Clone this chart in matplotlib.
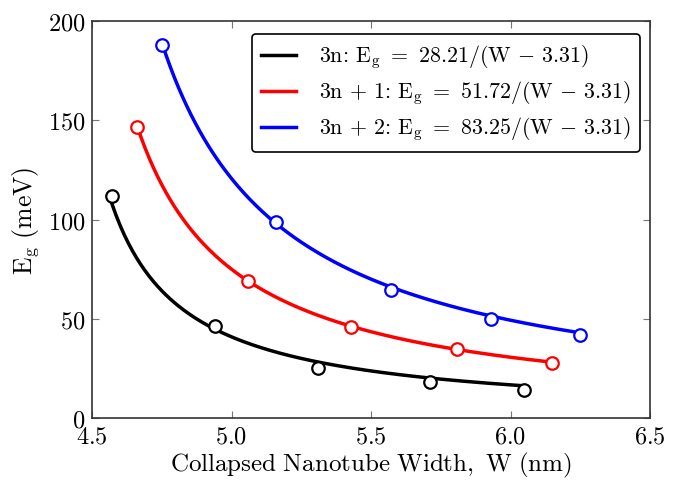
import numpy as np
import matplotlib
matplotlib.use("Agg")
import matplotlib.pyplot as plt

plt.rcParams['mathtext.fontset'] = 'cm'
plt.rcParams['font.family'] = 'serif'
plt.rcParams['font.serif'] = ['cmr10', 'DejaVu Serif']
plt.rcParams['axes.formatter.use_mathtext'] = True

# Data
w_3n = [4.57, 4.94, 5.31, 5.71, 6.05]
eg_3n = [112.0, 46.5, 25.2, 18.0, 14.1]
w_3n1 = [4.66, 5.06, 5.43, 5.81, 6.15]
eg_3n1 = [146.8, 69.0, 45.7, 34.8, 27.7]
w_3n2 = [4.75, 5.16, 5.57, 5.93, 6.25]
eg_3n2 = [187.9, 98.7, 64.6, 49.9, 41.8]

# Fit coefficients (legend) and curve offset as drawn
coef = [28.21, 51.72, 83.25]
w_offset = 4.31
labels = [r'$3\mathrm{n}$: $\mathrm{E_g}\ =\ 28.21/(\mathrm{W}\,-\,3.31)$',
          r'$3\mathrm{n}\,+\,1$: $\mathrm{E_g}\ =\ 51.72/(\mathrm{W}\,-\,3.31)$',
          r'$3\mathrm{n}\,+\,2$: $\mathrm{E_g}\ =\ 83.25/(\mathrm{W}\,-\,3.31)$']
colors = ['black', 'red', 'blue']

xticks = [4.5, 5.0, 5.5, 6.0, 6.5]
yticks = [0, 50, 100, 150, 200]

fig = plt.figure(figsize=(6.84, 4.81), dpi=100)
ax = fig.add_axes([92/684, 1-419/481, (650-92)/684, (419-22)/481])

series = [(w_3n, eg_3n), (w_3n1, eg_3n1), (w_3n2, eg_3n2)]
for (w, eg), a, c, lab in zip(series, coef, colors, labels):
    wf = np.linspace(w[0], w[-1], 200)
    ax.plot(wf, a / (wf - w_offset), color=c, lw=2.5, label=lab, zorder=2)
    ax.plot(w, eg, 'o', ms=9, mfc='white', mec=c, mew=1.6, ls='none', zorder=3)

ax.set_xlim(4.5, 6.5)
ax.set_ylim(0, 200)
ax.set_xticks(xticks)
ax.set_yticks(yticks)
ax.set_xticklabels([r'$\mathrm{%.1f}$' % v for v in xticks])
ax.set_yticklabels([r'$\mathrm{%d}$' % v for v in yticks])
ax.tick_params(direction='in', top=True, right=True, length=5, width=0.8,
               color='#777777', labelsize=17.5, pad=5)
for s in ax.spines.values():
    s.set_color('#333333')
    s.set_linewidth(1.2)

ax.set_xlabel(r'$\mathrm{Collapsed\ Nanotube\ Width,\ W\ (nm)}$', fontsize=18, labelpad=2)
ax.set_ylabel(r'$\mathrm{E_g\ (meV)}$', fontsize=18.5, labelpad=5)

leg = ax.legend(loc='upper right', fontsize=15.8, fancybox=True, framealpha=1,
                edgecolor='black', handlelength=1.6, borderpad=0.42,
                labelspacing=0.36, handletextpad=1.05, borderaxespad=0,
                bbox_to_anchor=(0.982, 0.967))
leg.get_frame().set_linewidth(1.2)

fig.savefig('out.png', dpi=100)
